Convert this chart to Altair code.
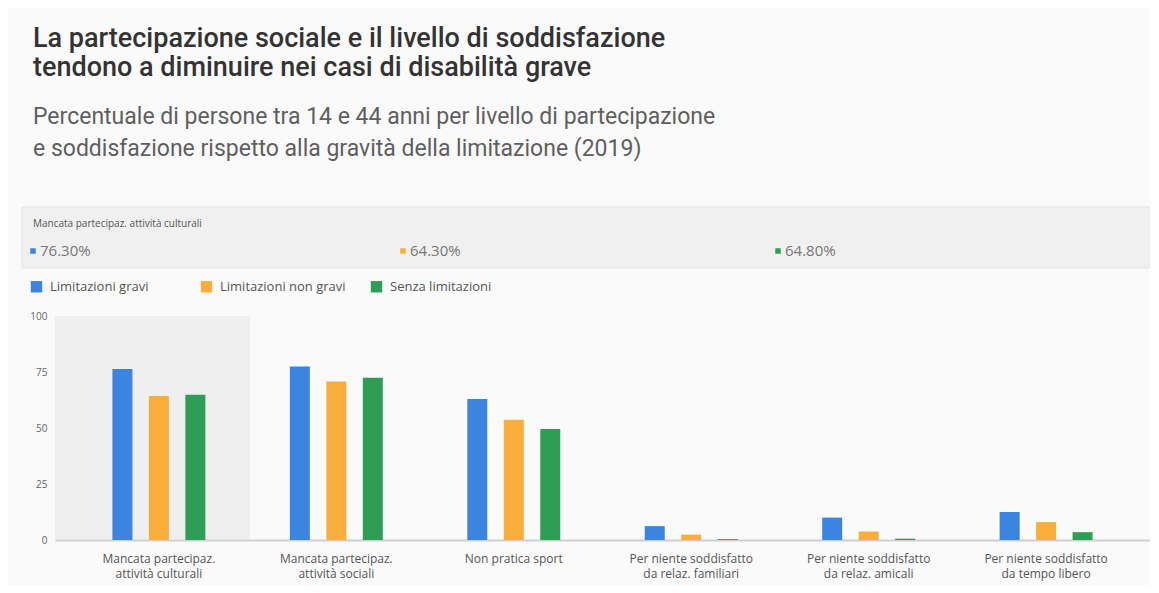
import altair as alt
import pandas as pd

# ---- data -------------------------------------------------------------
categories = [
    "Mancata partecipaz.|attività culturali",
    "Mancata partecipaz.|attività sociali",
    "Non pratica sport",
    "Per niente soddisfatto|da relaz. familiari",
    "Per niente soddisfatto|da relaz. amicali",
    "Per niente soddisfatto|da tempo libero",
]
series = ["Limitazioni gravi", "Limitazioni non gravi", "Senza limitazioni"]
grave = [76.3, 77.4, 63.0, 6.2, 10.0, 12.5]
non_grave = [64.3, 70.8, 53.7, 2.4, 3.8, 8.0]
senza = [64.8, 72.4, 49.5, 0.4, 0.6, 3.5]
colors = ["#3b84e0", "#f9ae3a", "#2e9e54"]
y_ticks = [0, 25, 50, 75, 100]

title_lines = [
    "La partecipazione sociale e il livello di soddisfazione",
    "tendono a diminuire nei casi di disabilità grave",
]
subtitle_lines = [
    "Percentuale di persone tra 14 e 44 anni per livello di partecipazione",
    "e soddisfazione rispetto alla gravità della limitazione (2019)",
]

rows = []
for vals, s in zip([grave, non_grave, senza], series):
    for c, v in zip(categories, vals):
        rows.append({"cat": c, "serie": s, "val": v})
df = pd.DataFrame(rows)

W, H = 1095, 224
one = alt.Data(values=[{}])

# ---- highlighted category band --------------------------------------
highlight = alt.Chart(one).mark_rect(color="#efefef").encode(
    x=alt.value(0), x2=alt.value(195), y=alt.value(0), y2=alt.value(H - 1)
)

# ---- bars ---------------------------------------------------------------
bars = alt.Chart(df).mark_bar().encode(
    x=alt.X(
        "cat:N",
        sort=categories,
        scale=alt.Scale(paddingInner=0.065, paddingOuter=0.118),
        axis=alt.Axis(
            title=None,
            labelAngle=0,
            labelExpr="split(datum.label, '|')",
            labelFont="Open Sans",
            labelFontSize=12,
            labelColor="#555",
            labelLineHeight=15,
            labelPadding=13,
            ticks=False,
            domainColor="#cfcfcf",
            domainWidth=2,
        ),
    ),
    xOffset=alt.XOffset(
        "serie:N", sort=series, scale=alt.Scale(paddingInner=0.452, paddingOuter=1)
    ),
    y=alt.Y(
        "val:Q",
        scale=alt.Scale(domain=[0, 100]),
        axis=alt.Axis(
            title=None,
            values=y_ticks,
            grid=False,
            domain=False,
            ticks=False,
            labelFont="Open Sans",
            labelFontSize=10,
            labelColor="#666",
            labelPadding=8,
        ),
    ),
    color=alt.Color(
        "serie:N",
        sort=series,
        scale=alt.Scale(domain=series, range=colors),
        legend=alt.Legend(
            title=None,
            orient="none",
            legendX=-25,
            legendY=-36,
            direction="horizontal",
            symbolType="square",
            symbolSize=130,
            symbolStrokeWidth=0,
            labelFont="Open Sans",
            labelFontSize=13,
            labelColor="#555",
            labelOffset=7,
            columnPadding=24,
            gridAlign="all",
            padding=0,
        ),
    ),
)

# ---- title / subtitle ---------------------------------------------------
def txt(s, x, y, size, color, weight="normal", font="Roboto"):
    return alt.Chart(one).mark_text(
        text=s, align="left", baseline="alphabetic", font=font,
        fontSize=size, fontWeight=weight, color=color,
    ).encode(x=alt.value(x), y=alt.value(y))

layers = [highlight]
layers.append(txt(title_lines[0], -22, -269, 27, "#333", 500))
layers.append(txt(title_lines[1], -22, -240, 27, "#333", 500))
layers.append(txt(subtitle_lines[0], -22, -192, 23, "#5f5f5f"))
layers.append(txt(subtitle_lines[1], -22, -160, 23, "#5f5f5f"))

# ---- hover box --------------------------------------------------------
box = alt.Chart(one).mark_rect(fill="#f0f0f0", stroke="#e4e4e4").encode(
    x=alt.value(-33), x2=alt.value(1095), y=alt.value(-109), y2=alt.value(-48)
)
layers.append(box)
layers.append(txt(categories[0].replace("|", " "), -22, -89, 10, "#555", font="Open Sans"))

first_vals = [grave[0], non_grave[0], senza[0]]
value_x = [-22, 348, 723]
for v, xx, col in zip(first_vals, value_x, colors):
    layers.append(
        alt.Chart(one).mark_square(size=30, color=col, opacity=1).encode(
            x=alt.value(xx), y=alt.value(-65)
        )
    )
    layers.append(txt(f"{v:.2f}%", xx + 7, -60, 15, "#777", font="Open Sans"))

layers.append(bars)

chart = (
    alt.layer(*layers)
    .properties(
        width=W,
        height=H,
        autosize=alt.AutoSizeParams(type="none"),
        padding={"left": 47, "top": 308, "right": 0, "bottom": 45},
        background="#fafafa",
    )
    .configure_view(stroke=None)
)

chart.save("out.html", embed_options={"renderer": "svg", "actions": False})
